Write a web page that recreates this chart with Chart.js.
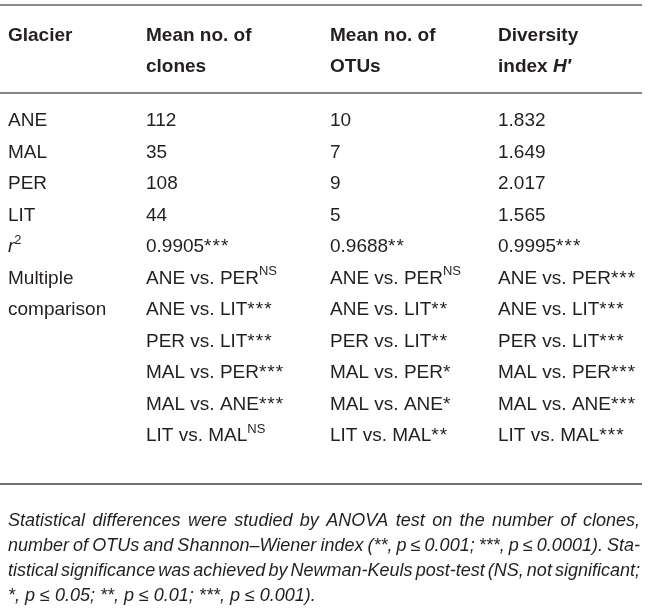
<!DOCTYPE html>
<html>
<head>
<meta charset="utf-8">
<script src="https://cdn.jsdelivr.net/npm/chart.js@4"></script>
<style>
  html, body { margin: 0; padding: 0; background: #fff; }
  canvas { display: block; }
</style>
</head>
<body>
<canvas id="tabla" width="650" height="608"></canvas>
<script>
// Datos de la tabla
const glaciares = ["ANE", "MAL", "PER", "LIT"];
const clones = [112, 35, 108, 44];
const otus = [10, 7, 9, 5];
const diversidad = [1.832, 1.649, 2.017, 1.565];
const r2 = [0.9905, 0.9688, 0.9995];
const r2Sig = ["***", "**", "***"];
const pares = ["ANE vs. PER", "ANE vs. LIT", "PER vs. LIT", "MAL vs. PER", "MAL vs. ANE", "LIT vs. MAL"];
const sigClones = ["NS", "***", "***", "***", "***", "NS"];
const sigOtus = ["NS", "**", "**", "*", "*", "**"];
const sigDiversidad = ["***", "***", "***", "***", "***", "***"];
const nota = [
    "Statistical differences were studied by ANOVA test on the number of clones,",
    "number of OTUs and Shannon\u2013Wiener index (**, p \u2264 0.001; ***, p \u2264 0.0001). Sta-",
    "tistical significance was achieved by Newman-Keuls post-test (NS, not significant;",
    "*, p \u2264 0.05; **, p \u2264 0.01; ***, p \u2264 0.001)."
];

// Maquetación
const COL_X = [8, 146, 330, 498];
const HEAD_Y = [36, 67];
const FILA0 = 121, PASO = 31.5;
const NOTA_Y0 = 521, NOTA_PASO = 25;
const ANCHO = 632;
const FUENTE = '"Liberation Sans", Arial, sans-serif';
const COLOR = "#231f20";

const n = (t) => ({ t, s: "" });
const b = (t) => ({ t, s: "bold " });
const i = (t) => ({ t, s: "italic " });
const bi = (t) => ({ t, s: "italic bold " });
const sup = (t) => ({ t, s: "", sup: true });
// NS va en superíndice, los asteriscos en línea
const sig = (s) => s === "NS" ? sup(s) : { t: s, s: "", star: true };

const celdas = [];
const fila = (k) => FILA0 + PASO * k;
function celda(col, y, runs) { celdas.push({ x: COL_X[col], y, runs }); }

// Encabezados
celda(0, HEAD_Y[0], [b("Glacier")]);
celda(1, HEAD_Y[0], [b("Mean no. of")]);
celda(1, HEAD_Y[1], [b("clones")]);
celda(2, HEAD_Y[0], [b("Mean no. of")]);
celda(2, HEAD_Y[1], [b("OTUs")]);
celda(3, HEAD_Y[0], [b("Diversity")]);
celda(3, HEAD_Y[1], [b("index "), bi("H"), bi("\u2032")]);

// Filas de glaciares
glaciares.forEach((g, k) => {
    celda(0, fila(k), [n(g)]);
    celda(1, fila(k), [n(String(clones[k]))]);
    celda(2, fila(k), [n(String(otus[k]))]);
    celda(3, fila(k), [n(diversidad[k].toFixed(3))]);
});

// r²
celda(0, fila(4), [i("r"), sup("2")]);
r2.forEach((v, c) => celda(c + 1, fila(4), [n(v.toFixed(4)), sig(r2Sig[c])]));

// Comparaciones múltiples
celda(0, fila(5), [n("Multiple")]);
celda(0, fila(6), [n("comparison")]);
pares.forEach((p, k) => {
    celda(1, fila(5 + k), [n(p), sig(sigClones[k])]);
    celda(2, fila(5 + k), [n(p), sig(sigOtus[k])]);
    celda(3, fila(5 + k), [n(p), sig(sigDiversidad[k])]);
});

const reglas = [
    { y: 5, x0: 0, x1: 642, color: "#8a8a8a", w: 2 },
    { y: 93, x0: 0, x1: 642, color: "#5a5a5a", w: 1.5 },
    { y: 484, x0: 0, x1: 642, color: "#707070", w: 2 }
];

function dibujarRuns(ctx, runs, x, y) {
    let cx = x;
    runs.forEach(r => {
        const size = r.sup ? 13 : 19;
        ctx.font = r.s + size + "px " + FUENTE;
        ctx.letterSpacing = r.star ? "1px" : "0px";
        ctx.fillText(r.t, cx, y + (r.sup ? -7 : 0));
        cx += ctx.measureText(r.t).width;
    });
    ctx.letterSpacing = "0px";
}

function dibujarNota(ctx, texto, x, y, justificar) {
    ctx.font = "italic 18px " + FUENTE;
    if (!justificar) { ctx.fillText(texto, x, y); return; }
    const palabras = texto.split(" ");
    const anchos = palabras.map(p => ctx.measureText(p).width);
    const total = anchos.reduce((a, c) => a + c, 0);
    const huecos = palabras.length - 1;
    let hueco = (ANCHO - total) / huecos;
    let sx = 1;
    if (hueco < 2.5) { hueco = 2.5; sx = ANCHO / (total + huecos * hueco); }
    ctx.save();
    ctx.translate(x, y);
    ctx.scale(sx, 1);
    let cx = 0;
    palabras.forEach((p, k) => { ctx.fillText(p, cx, 0); cx += anchos[k] + hueco; });
    ctx.restore();
}

const pluginTabla = {
    id: "pluginTabla",
    afterDatasetsDraw(chart) {
        const ctx = chart.ctx;
        const sx = chart.scales.x, sy = chart.scales.y;
        ctx.save();
        reglas.forEach(r => {
            ctx.strokeStyle = r.color;
            ctx.lineWidth = r.w;
            ctx.beginPath();
            ctx.moveTo(sx.getPixelForValue(r.x0), sy.getPixelForValue(r.y));
            ctx.lineTo(sx.getPixelForValue(r.x1), sy.getPixelForValue(r.y));
            ctx.stroke();
        });
        ctx.fillStyle = COLOR;
        ctx.textBaseline = "middle";
        ctx.textAlign = "left";
        chart.getDatasetMeta(0).data.forEach((pt, k) => dibujarRuns(ctx, celdas[k].runs, pt.x, pt.y));
        chart.getDatasetMeta(1).data.forEach((pt, k) => dibujarNota(ctx, nota[k], pt.x, pt.y, k < nota.length - 1));
        ctx.restore();
    }
};

new Chart(document.getElementById("tabla"), {
    type: "scatter",
    data: {
        datasets: [
            { data: celdas.map(c => ({ x: c.x, y: c.y })), pointRadius: 0 },
            { data: nota.map((t, k) => ({ x: 8, y: NOTA_Y0 + NOTA_PASO * k })), pointRadius: 0 }
        ]
    },
    options: {
        responsive: false,
        animation: false,
        layout: { padding: 0 },
        plugins: { legend: { display: false }, tooltip: { enabled: false } },
        scales: {
            x: { type: "linear", min: 0, max: 650, display: false },
            y: { type: "linear", min: 0, max: 608, reverse: true, display: false }
        }
    },
    plugins: [pluginTabla]
});
</script>
</body>
</html>
